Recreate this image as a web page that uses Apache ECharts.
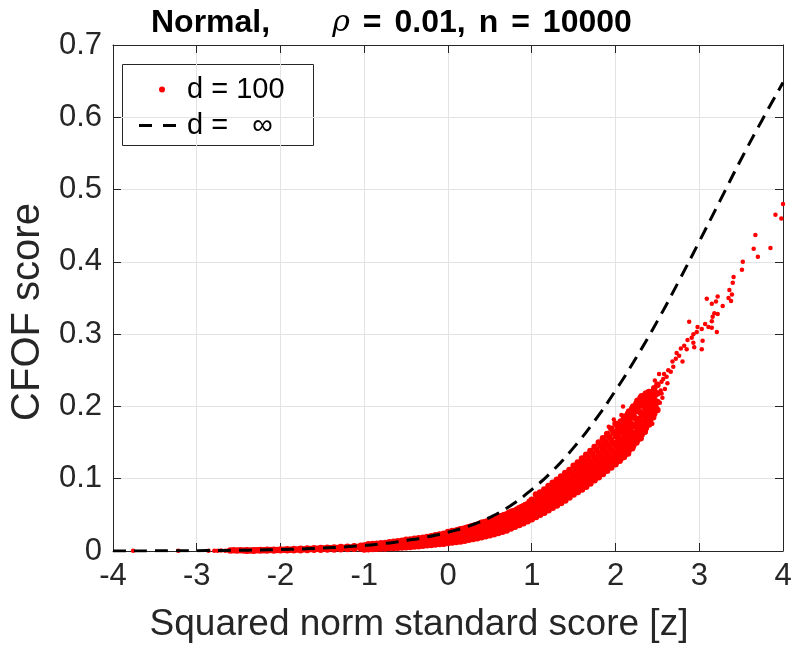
<!DOCTYPE html>
<html>
<head>
<meta charset="utf-8">
<script src="https://cdn.jsdelivr.net/npm/echarts@6/dist/echarts.min.js"></script>
<style>
html, body { margin: 0; padding: 0; background: #fff; }
#chart { width: 796px; height: 648px; }
</style>
</head>
<body>
<div id="chart"></div>
<script>
// d = infinity curve
const infX = [-4, -3.75, -3.5, -3.25, -3, -2.75, -2.5, -2.25, -2, -1.75, -1.5, -1.25, -1, -0.75, -0.5, -0.25,
	0, 0.25, 0.5, 0.75, 1, 1.25, 1.5, 1.75, 2, 2.25, 2.5, 2.75, 3, 3.25, 3.5, 3.75, 4];
const infY = [0, 0.0001, 0.0002, 0.0003, 0.0005, 0.0007, 0.001, 0.0014, 0.002, 0.0029, 0.004, 0.0056, 0.0076, 0.0105, 0.0145, 0.0195,
	0.026, 0.0345, 0.0465, 0.063, 0.085, 0.111, 0.143, 0.18, 0.222, 0.268, 0.318, 0.372, 0.428, 0.485, 0.542, 0.596, 0.648];

// d = 100 : isolated points in the low tail
const tailPoints = [[-3.76, 0.0002], [-3.22, 0.0003], [-2.86, 0.0004], [-2.79, 0.0005], [-2.75, 0.0003],
	[-2.71, 0.0006], [-2.66, 0.0004], [-2.62, 0.0007]];

// d = 100 : dense band, each row is [x, y, y, ...]
const bandColumns = [
	[-2.60, 0.0006], [-2.56, 0.0009], [-2.52, 0.0007], [-2.48, 0.0010], [-2.44, 0.0006], [-2.40, 0.0011, 0.0004],
	[-2.36, 0.0008], [-2.32, 0.0012, 0.0005], [-2.28, 0.0010], [-2.24, 0.0014, 0.0006], [-2.20, 0.0011],
	[-2.16, 0.0016, 0.0007], [-2.12, 0.0013], [-2.08, 0.0018, 0.0008], [-2.04, 0.0015], [-2.00, 0.0021, 0.0009],
	[-1.96, 0.0017], [-1.92, 0.0024, 0.0010], [-1.88, 0.0019], [-1.84, 0.0027, 0.0011], [-1.80, 0.0021],
	[-1.76, 0.0030, 0.0012], [-1.72, 0.0024], [-1.68, 0.0034, 0.0014], [-1.64, 0.0027], [-1.60, 0.0038, 0.0016],
	[-1.56, 0.0030], [-1.52, 0.0042, 0.0018], [-1.48, 0.0034], [-1.44, 0.0046, 0.0020], [-1.40, 0.0037],
	[-1.36, 0.0050, 0.0022], [-1.32, 0.0041], [-1.28, 0.0055, 0.0025], [-1.24, 0.0045], [-1.20, 0.0060, 0.0028],
	[-1.16, 0.0050], [-1.12, 0.0066, 0.0031], [-1.08, 0.0055], [-1.04, 0.0072, 0.0034], [-1.00, 0.0076, 0.0045, 0.0022],
	[-0.95, 0.0025, 0.0055, 0.0092], [-0.90, 0.0028, 0.0062, 0.0098], [-0.85, 0.0031, 0.0068, 0.0102],
	[-0.80, 0.0034, 0.0070, 0.0108], [-0.75, 0.0036, 0.0076, 0.0112], [-0.70, 0.0040, 0.0082, 0.0120],
	[-0.65, 0.0043, 0.0085, 0.0128], [-0.60, 0.0046, 0.0090, 0.0135], [-0.55, 0.0049, 0.0095, 0.0142],
	[-0.50, 0.0052, 0.0102, 0.0155], [-0.45, 0.0057, 0.0108, 0.0160], [-0.40, 0.0062, 0.0115, 0.0168],
	[-0.35, 0.0066, 0.0120, 0.0178], [-0.30, 0.0072, 0.0128, 0.0185], [-0.25, 0.0078, 0.0136, 0.0195],
	[-0.20, 0.0084, 0.0145, 0.0205], [-0.15, 0.0090, 0.0152, 0.0218], [-0.10, 0.0096, 0.0160, 0.0228],
	[-0.05, 0.0102, 0.0170, 0.0240], [0.00, 0.0110, 0.0180, 0.0262],
	[0.05, 0.0118, 0.0165, 0.0215, 0.0275], [0.10, 0.0125, 0.0178, 0.0228, 0.0285], [0.15, 0.0132, 0.0186, 0.0240, 0.0300],
	[0.20, 0.0142, 0.0196, 0.0252, 0.0312], [0.25, 0.0155, 0.0208, 0.0262, 0.0330], [0.30, 0.0165, 0.0220, 0.0275, 0.0345],
	[0.35, 0.0178, 0.0232, 0.0290, 0.0360], [0.40, 0.0190, 0.0245, 0.0305, 0.0392], [0.45, 0.0205, 0.0258, 0.0320, 0.0400],
	[0.50, 0.0218, 0.0272, 0.0335, 0.0425], [0.55, 0.0232, 0.0290, 0.0352, 0.0440], [0.60, 0.0248, 0.0305, 0.0370, 0.0462],
	[0.65, 0.0265, 0.0325, 0.0390, 0.0488], [0.70, 0.0285, 0.0345, 0.0412, 0.0505], [0.75, 0.0310, 0.0368, 0.0432, 0.0540],
	[0.80, 0.0335, 0.0390, 0.0455, 0.0558], [0.85, 0.0360, 0.0412, 0.0480, 0.0590], [0.90, 0.0385, 0.0438, 0.0505, 0.0620],
	[0.95, 0.0412, 0.0465, 0.0532, 0.0648], [1.00, 0.0440, 0.0495, 0.0560, 0.0630, 0.0710],
	[1.05, 0.0470, 0.0530, 0.0600, 0.0680, 0.0780], [1.10, 0.0500, 0.0565, 0.0635, 0.0715, 0.0810],
	[1.15, 0.0530, 0.0595, 0.0670, 0.0750, 0.0850], [1.20, 0.0565, 0.0630, 0.0705, 0.0790, 0.0900],
	[1.25, 0.0600, 0.0665, 0.0745, 0.0830, 0.0945], [1.30, 0.0630, 0.0700, 0.0780, 0.0870, 0.0985],
	[1.35, 0.0665, 0.0735, 0.0820, 0.0910, 0.1030], [1.40, 0.0700, 0.0770, 0.0860, 0.0955, 0.1080],
	[1.45, 0.0740, 0.0810, 0.0900, 0.1000, 0.1120], [1.50, 0.0780, 0.0850, 0.0945, 0.1045, 0.1180],
	[1.55, 0.0815, 0.0895, 0.0990, 0.1090, 0.1225], [1.60, 0.0850, 0.0935, 0.1035, 0.1140, 0.1280],
	[1.65, 0.0890, 0.0980, 0.1080, 0.1190, 0.1330], [1.70, 0.0935, 0.1025, 0.1130, 0.1240, 0.1385],
	[1.75, 0.0980, 0.1070, 0.1180, 0.1295, 0.1440], [1.80, 0.1020, 0.1120, 0.1230, 0.1350, 0.1500],
	[1.85, 0.1065, 0.1170, 0.1285, 0.1410, 0.1560], [1.90, 0.1110, 0.1220, 0.1340, 0.1470, 0.1620],
	[1.95, 0.1155, 0.1270, 0.1395, 0.1530, 0.1690], [2.00, 0.1200, 0.1325, 0.1450, 0.1590, 0.1760],
	[2.05, 0.1250, 0.1360, 0.1460, 0.1560, 0.1660, 0.1760], [2.10, 0.1300, 0.1410, 0.1520, 0.1630, 0.1730, 0.1830],
	[2.15, 0.1350, 0.1470, 0.1580, 0.1690, 0.1800, 0.1900], [2.20, 0.1420, 0.1530, 0.1640, 0.1750, 0.1860, 0.1970],
	[2.25, 0.1500, 0.1610, 0.1720, 0.1830, 0.1940, 0.2040], [2.30, 0.1560, 0.1680, 0.1800, 0.1920, 0.2040, 0.2120],
	[2.35, 0.1650, 0.1770, 0.1890, 0.2010, 0.2150], [2.40, 0.1750, 0.1860, 0.1980, 0.2100, 0.2200],
	[2.45, 0.1850, 0.1960, 0.2080, 0.2200], [2.50, 0.1950, 0.2060, 0.2180, 0.2300]
];

// d = 100 : band points lying between the columns above
const bandColumnsOffset = [
	[-0.975, 0.0040, 0.0075], [-0.925, 0.0045, 0.0080], [-0.875, 0.0048, 0.0085], [-0.825, 0.0052, 0.0090],
	[-0.775, 0.0056, 0.0095], [-0.725, 0.0060, 0.0100], [-0.675, 0.0064, 0.0106], [-0.625, 0.0068, 0.0112],
	[-0.575, 0.0072, 0.0118], [-0.525, 0.0077, 0.0128], [-0.475, 0.0082, 0.0134], [-0.425, 0.0088, 0.0140],
	[-0.375, 0.0094, 0.0148], [-0.325, 0.0100, 0.0156], [-0.275, 0.0106, 0.0165], [-0.225, 0.0112, 0.0175],
	[-0.175, 0.0120, 0.0185], [-0.125, 0.0128, 0.0195], [-0.075, 0.0135, 0.0205], [-0.025, 0.0142, 0.0220],
	[0.025, 0.0140, 0.0190, 0.0245], [0.075, 0.0145, 0.0198, 0.0255], [0.125, 0.0150, 0.0205, 0.0265, 0.0292],
	[0.175, 0.0158, 0.0215, 0.0275, 0.0305], [0.225, 0.0170, 0.0228, 0.0288, 0.0320], [0.275, 0.0180, 0.0240, 0.0300, 0.0338],
	[0.325, 0.0192, 0.0252, 0.0315, 0.0352], [0.375, 0.0205, 0.0265, 0.0330, 0.0375], [0.425, 0.0218, 0.0282, 0.0348, 0.0395],
	[0.475, 0.0230, 0.0295, 0.0365, 0.0412], [0.525, 0.0245, 0.0310, 0.0382, 0.0432], [0.575, 0.0260, 0.0328, 0.0400, 0.0452],
	[0.625, 0.0275, 0.0345, 0.0420, 0.0475], [0.675, 0.0295, 0.0365, 0.0440, 0.0498], [0.725, 0.0318, 0.0388, 0.0465, 0.0525],
	[0.775, 0.0340, 0.0410, 0.0490, 0.0550], [0.825, 0.0362, 0.0435, 0.0515, 0.0575], [0.875, 0.0388, 0.0460, 0.0545, 0.0605],
	[0.925, 0.0415, 0.0490, 0.0575, 0.0635], [0.975, 0.0440, 0.0518, 0.0605, 0.0680],
	[1.025, 0.0484, 0.0546, 0.0618, 0.0700], [1.075, 0.0516, 0.0583, 0.0658, 0.0746],
	[1.125, 0.0548, 0.0616, 0.0693, 0.0781], [1.175, 0.0580, 0.0650, 0.0729, 0.0822],
	[1.225, 0.0615, 0.0686, 0.0767, 0.0866], [1.275, 0.0649, 0.0723, 0.0806, 0.0908],
	[1.325, 0.0683, 0.0759, 0.0845, 0.0949], [1.375, 0.0718, 0.0796, 0.0886, 0.0994],
	[1.425, 0.0755, 0.0835, 0.0929, 0.1039], [1.475, 0.0795, 0.0876, 0.0973, 0.1086],
	[1.525, 0.0835, 0.0920, 0.1018, 0.1135], [1.575, 0.0874, 0.0964, 0.1064, 0.1184],
	[1.625, 0.0914, 0.1008, 0.1111, 0.1235], [1.675, 0.0958, 0.1054, 0.1160, 0.1286],
	[1.725, 0.1003, 0.1101, 0.1211, 0.1340], [1.775, 0.1048, 0.1150, 0.1264, 0.1396],
	[1.825, 0.1094, 0.1201, 0.1319, 0.1455], [1.875, 0.1141, 0.1254, 0.1376, 0.1515],
	[1.925, 0.1189, 0.1306, 0.1434, 0.1578], [1.975, 0.1238, 0.1360, 0.1491, 0.1642],
	[2.025, 0.1290, 0.1400, 0.1510, 0.1620, 0.1720], [2.075, 0.1330, 0.1440, 0.1545, 0.1650, 0.1750],
	[2.125, 0.1385, 0.1495, 0.1605, 0.1710, 0.1815], [2.175, 0.1440, 0.1550, 0.1665, 0.1770, 0.1880],
	[2.225, 0.1515, 0.1625, 0.1735, 0.1845, 0.1950], [2.275, 0.1585, 0.1700, 0.1815, 0.1935, 0.2030],
	[2.325, 0.1660, 0.1780, 0.1900, 0.2010], [2.375, 0.1755, 0.1870, 0.1990, 0.2110],
	[2.425, 0.1860, 0.1970, 0.2090], [2.475, 0.1950, 0.2070, 0.2190]
];

// d = 100 : extra band points in the wide part near z = 2
const bandFill = [
	[2.0125, 0.1240, 0.1350, 0.1480, 0.1650], [2.0625, 0.1280, 0.1415, 0.1540, 0.1700, 0.1790],
	[2.1125, 0.1330, 0.1470, 0.1600, 0.1760, 0.1860], [2.1625, 0.1400, 0.1530, 0.1660, 0.1820, 0.1930],
	[2.2125, 0.1460, 0.1600, 0.1730, 0.1890, 0.2000], [2.2625, 0.1540, 0.1680, 0.1800, 0.1970, 0.2080],
	[2.3125, 0.1610, 0.1750, 0.1880, 0.2050, 0.2140], [2.3625, 0.1700, 0.1830, 0.1960, 0.2080, 0.2180],
	[2.4125, 0.1800, 0.1920, 0.2040, 0.2160], [2.4625, 0.1900, 0.2020, 0.2140, 0.2250]
];

// d = 100 : stray points and the sparse upper end
const upperPoints = [[1.64, 0.092], [2.02, 0.128], [2.09, 0.200], [2.07, 0.188], [1.92, 0.172], [1.98, 0.182],
	[2.44, 0.176], [2.49, 0.200], [2.53, 0.205], [2.56, 0.212], [2.54, 0.222], [2.58, 0.245], [2.61, 0.241],
	[2.47, 0.236], [2.51, 0.229], [2.52, 0.245], [2.55, 0.234], [2.57, 0.238], [2.59, 0.224], [2.55, 0.218], [2.62, 0.232],
	[2.63, 0.250], [2.66, 0.248], [2.68, 0.262], [2.69, 0.255], [2.73, 0.274], [2.72, 0.266], [2.76, 0.270], [2.80, 0.262],
	[2.78, 0.280], [2.82, 0.284], [2.85, 0.279], [2.86, 0.292], [2.88, 0.317], [2.91, 0.295], [2.93, 0.288], [2.93, 0.300],
	[2.94, 0.282], [2.97, 0.303], [2.98, 0.310], [3.03, 0.279], [3.04, 0.291], [3.03, 0.307], [3.07, 0.314], [3.11, 0.310],
	[3.15, 0.309], [3.21, 0.303], [3.15, 0.318], [3.16, 0.324], [3.18, 0.329], [3.22, 0.328], [3.09, 0.349], [3.15, 0.342],
	[3.20, 0.345], [3.22, 0.352], [3.28, 0.339], [3.35, 0.350], [3.38, 0.346], [3.36, 0.361], [3.39, 0.355], [3.40, 0.371],
	[3.41, 0.379], [3.51, 0.389], [3.52, 0.400], [3.70, 0.407], [3.65, 0.418], [3.85, 0.419], [3.67, 0.437], [3.91, 0.465],
	[3.98, 0.460], [4.00, 0.480]];

const font = "'Liberation Sans', Arial, Helvetica, sans-serif";
const axisColor = "#262626";

// band points overlap into a solid strip, stray points stay small
let scatterData = tailPoints.map(function (p) {
	return {value: p, symbolSize: 4.5};
});
bandColumns.concat(bandColumnsOffset, bandFill).forEach(function (col) {
	for (let i = 1; i < col.length; i++) {
		scatterData.push({value: [col[0], col[i]], symbolSize: 6.5});
	}
});
upperPoints.forEach(function (p) {
	scatterData.push({value: p, symbolSize: 4.5});
});

const lineData = infX.map(function (x, i) {
	return [x, infY[i]];
});

function boxAxis(pos, min, max, interval) {
	return {
		type: "value",
		position: pos,
		min: min,
		max: max,
		interval: interval,
		axisLine: {show: true, onZero: false, lineStyle: {color: axisColor, width: 1}},
		axisTick: {show: true, inside: true, length: 8, lineStyle: {color: axisColor}},
		axisLabel: {show: false},
		splitLine: {show: false}
	};
}

const chart = echarts.init(document.getElementById("chart"));
chart.setOption({
	animation: false,
	backgroundColor: "#fff",
	title: {
		left: 146,
		top: 2,
		text: "{b|Normal,}{g|}{i|ρ}{s|}{b|=}{s|}{b|0.01,}{s|}{b|n}{s|}{b|=}{s|}{b|10000}",
		textStyle: {
			rich: {
				b: {fontFamily: font, fontWeight: "bold", fontSize: 32, color: "#000"},
				g: {width: 62},
				s: {width: 13},
				i: {fontFamily: "'DejaVu Serif', serif", fontStyle: "italic", fontWeight: "normal", fontSize: 30, color: "#000"}
			}
		}
	},
	grid: {left: 106, right: 13, top: 45, bottom: 97, containLabel: false},
	legend: [
		{
			data: ["d = 100"],
			orient: "vertical",
			left: 154,
			top: 70,
			itemWidth: 6,
			itemHeight: 6,
			icon: "circle",
			selectedMode: false,
			textStyle: {fontFamily: font, fontSize: 29, color: "#000", padding: [0, 0, 0, 17]}
		},
		{
			data: [{name: "d =   ∞", icon: "path://M0,0H13V3H0Z M24,0H37V3H24Z"}],
			orient: "vertical",
			left: 134,
			top: 106,
			itemWidth: 37,
			itemHeight: 3,
			selectedMode: false,
			textStyle: {fontFamily: font, fontSize: 29, color: "#000", padding: [0, 0, 0, 6]}
		}
	],
	graphic: [
		{
			type: "rect",
			left: 122,
			top: 64,
			z: 0,
			shape: {width: 191, height: 81},
			style: {fill: "#fff", stroke: axisColor, lineWidth: 1}
		}
	],
	xAxis: [
		{
			type: "value",
			min: -4,
			max: 4,
			interval: 1,
			name: "Squared norm standard score [z]",
			nameLocation: "middle",
			nameGap: 55,
			nameTextStyle: {fontFamily: font, fontSize: 37, color: axisColor, padding: [0, 58, 0, 0]},
			axisLine: {onZero: false, lineStyle: {color: axisColor, width: 1}},
			axisTick: {inside: true, length: 8, lineStyle: {color: axisColor}},
			axisLabel: {fontFamily: font, fontSize: 31, color: axisColor, margin: 10},
			splitLine: {show: true, lineStyle: {color: "#e3e3e3", width: 1}}
		},
		boxAxis("top", -4, 4, 1)
	],
	yAxis: [
		{
			type: "value",
			min: 0,
			max: 0.7,
			interval: 0.1,
			name: "CFOF score",
			nameLocation: "middle",
			nameGap: 64,
			nameRotate: 90,
			nameTextStyle: {fontFamily: font, fontSize: 40, color: axisColor, padding: [0, 28, 0, 0]},
			axisLine: {show: true, onZero: false, lineStyle: {color: axisColor, width: 1}},
			axisTick: {show: true, inside: true, length: 8, lineStyle: {color: axisColor}},
			axisLabel: {
				fontFamily: font, fontSize: 31, color: axisColor, margin: 11,
				formatter: function (v) {
					return String(Number(v.toFixed(1)));
				}
			},
			splitLine: {show: true, lineStyle: {color: "#e3e3e3", width: 1}}
		},
		boxAxis("right", 0, 0.7, 0.1)
	],
	series: [
		{
			name: "d = 100",
			type: "scatter",
			data: scatterData,
			symbol: "circle",
			symbolSize: 5,
			itemStyle: {color: "#ff0000", opacity: 1},
			z: 2
		},
		{
			name: "d =   ∞",
			type: "line",
			data: lineData,
			smooth: true,
			showSymbol: false,
			symbol: "none",
			lineStyle: {color: "#000", width: 3, type: [13, 8]},
			itemStyle: {color: "#000"},
			z: 3
		}
	]
});
window.addEventListener("resize", function () {
	chart.resize();
});
</script>
</body>
</html>
